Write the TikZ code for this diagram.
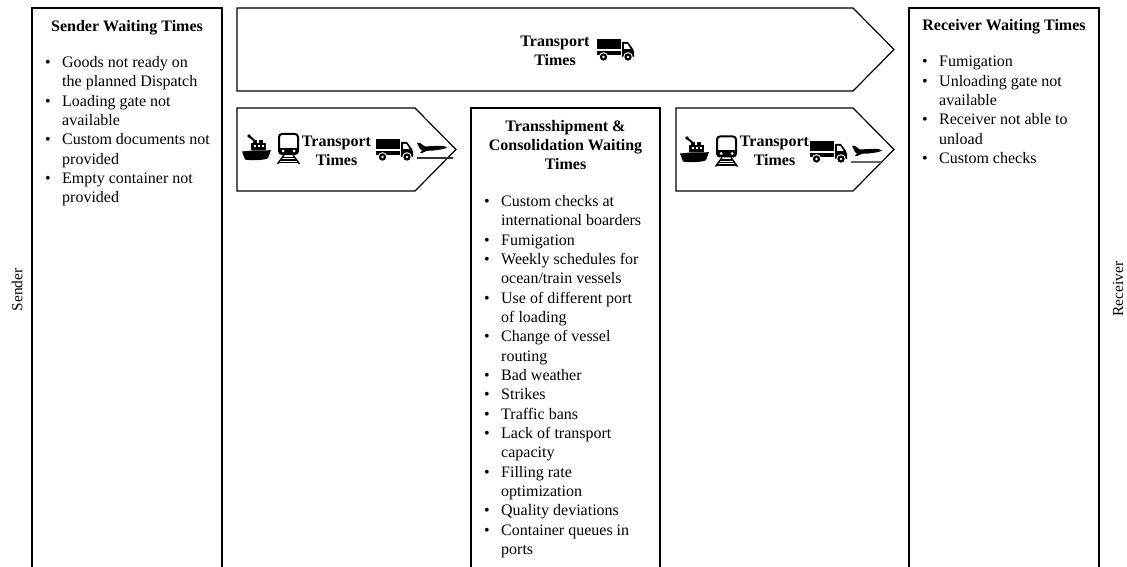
\documentclass[tikz,border=0pt]{standalone}
\usepackage{fontspec}
\setmainfont{Liberation Serif}
\newcommand{\lsize}{\fontsize{16}{19.35}\selectfont}
\newcommand{\bl}[1]{\makebox[17pt][l]{•}#1}
\newcommand{\cn}[1]{\hspace*{17pt}#1}
\tikzset{
  panel/.style={draw=black,line width=1.2pt,line join=miter},
  head/.style={font=\lsize\bfseries,align=center,inner sep=0pt},
  listing/.style={font=\lsize,align=left,inner sep=0pt,anchor=north west},
  side/.style={font=\fontsize{15.4}{18}\selectfont,rotate=90,inner sep=0pt},
  pics/truck/.style={code={
    \fill (0,0) rectangle (24,10.5);
    \fill (0,12) rectangle (24,16.5);
    \fill (25,3) -- (31,3) -- (36,10) -- (37,13) -- (37,18) -- (25,18) -- cycle;
    \fill[white] (27,5) -- (30.5,5) -- (33.5,10) -- (27,10) -- cycle;
    \fill[white] (6.5,18) circle (4.8); \fill (6.5,18) circle (3.7); \fill[white] (6.5,18) circle (1.3);
    \fill[white] (31,18) circle (4.8); \fill (31,18) circle (3.7); \fill[white] (31,18) circle (1.3);
  }},
  pics/ship/.style={code={
    \fill (0,16.5) -- (10,15.5) -- (24,15.5) -- (29,15) -- (26,23) .. controls (24,25.5) and (6,25.5) .. (3,24.5) -- cycle;
    \fill (9,8) rectangle (24,15.5);
    \fill (11,5) rectangle (15,8);
    \fill (17,5) rectangle (21,8);
    \fill[white] (11.5,10) rectangle (13.5,12);
    \fill[white] (15.5,10) rectangle (17.5,12);
    \fill[white] (19.5,10) rectangle (21.5,12);
    \draw[line width=2pt] (7,1) -- (14,7);
    \fill (7,1) circle (1.8);
  }},
  pics/train/.style={code={
    \draw[line width=2pt,rounded corners=3pt] (2,1) rectangle (21,21);
    \fill (2,15) rectangle (21,21);
    \fill[white] (6,18) circle (1.5);
    \fill[white] (17,18) circle (1.5);
    \draw[line width=1.4pt] (7,22) -- (0.5,31) (16,22) -- (22.5,31);
    \draw[line width=1.2pt] (5,24.5) -- (18,24.5) (3.5,27) -- (19.5,27) (2,29.5) -- (21,29.5);
  }},
  pics/plane/.style={code={
    \fill (0,0) -- (3,0) -- (8,3.5) -- (21,2.8) .. controls (25,2.5) and (29,3.5) .. (30,4.5)
      .. controls (28,6) and (22,7) .. (16,7.5) -- (10,7.8) -- (5,10) -- (3,10) -- (5,7.5) -- (3,6) -- cycle;
  }},
}
\begin{document}
\begin{tikzpicture}[x=1pt,y=-1pt]
\useasboundingbox (0,0) rectangle (1127,567);
\clip (0,0) rectangle (1127,567);
% panels
\draw[panel] (32,567) -- (32,8) -- (222,8) -- (222,567);
\draw[panel] (471,567) -- (471,108) -- (660,108) -- (660,567);
\draw[panel] (909,567) -- (909,8) -- (1099,8) -- (1099,567);
% arrows
\draw[panel] (237,8) -- (853,8) -- (894,49.5) -- (853,91) -- (237,91) -- cycle;
\draw[panel] (237,108) -- (415,108) -- (456,149.5) -- (415,191) -- (237,191) -- cycle;
\draw[panel] (676,108) -- (853,108) -- (894,149.5) -- (853,191) -- (676,191) -- cycle;
% side labels
\node[side] (sender) at (17,290) {Sender};
\node[side] (receiver) at (1118,289) {Receiver};
% headings
\node[head] (hs) at (127,28) {Sender Waiting Times};
\node[head] (hr) at (1004,27) {Receiver Waiting Times};
\node[head] (ht) at (565.5,145) {Transshipment \&\\Consolidation Waiting\\Times};
\node[head] (t1) at (555,51) {Transport\\Times};
\node[head] (t2) at (336.5,151) {Transport\\Times};
\node[head] (t3) at (774.5,151) {Transport\\Times};
% lists
\node[listing] (ls) at (45,56) {\bl{Goods not ready on}\\\cn{the planned Dispatch}\\\bl{Loading gate not}\\\cn{available}\\\bl{Custom documents not}\\\cn{provided}\\\bl{Empty container not}\\\cn{provided}};
\node[listing] (lt) at (484,195) {\bl{Custom checks at}\\\cn{international boarders}\\\bl{Fumigation}\\\bl{Weekly schedules for}\\\cn{ocean/train vessels}\\\bl{Use of different port}\\\cn{of loading}\\\bl{Change of vessel}\\\cn{routing}\\\bl{Bad weather}\\\bl{Strikes}\\\bl{Traffic bans}\\\bl{Lack of transport}\\\cn{capacity}\\\bl{Filling rate}\\\cn{optimization}\\\bl{Quality deviations}\\\bl{Container queues in}\\\cn{ports}};
\node[listing] (lr) at (922,56) {\bl{Fumigation}\\\bl{Unloading gate not}\\\cn{available}\\\bl{Receiver not able to}\\\cn{unload}\\\bl{Custom checks}};
% icons
\pic at (597,39) {truck};
\pic at (242,135) {ship};
\pic at (277,133) {train};
\pic at (376,139) {truck};
\pic at (417,143) {plane};
\draw[line width=1.3pt,draw=black!80] (417,158) -- (453,158);
\pic at (680,137) {ship};
\pic at (715,135.5) {train};
\pic at (810,141) {truck};
\pic at (852,146) {plane};
\draw[line width=1.3pt,draw=black!60] (851,162) -- (881,162);
\end{tikzpicture}
\end{document}
